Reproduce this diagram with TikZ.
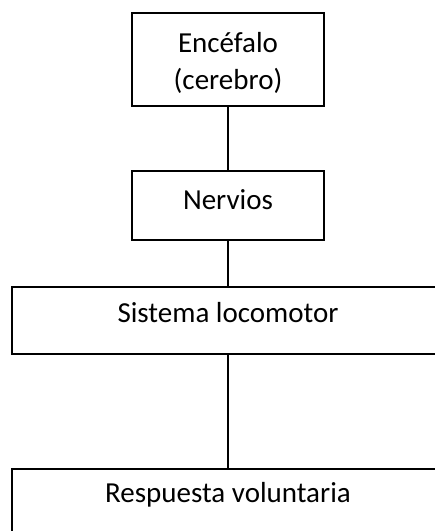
\documentclass[tikz,border=0pt]{standalone}
\usepackage{fontspec}
\setmainfont{Carlito}
\begin{document}
\begin{tikzpicture}[x=1pt,y=1pt,
  boxstyle/.style={draw=black,line width=1.6pt,rectangle,inner sep=0pt},
  txt/.style={inner sep=0pt,font=\fontsize{29}{37}\selectfont,align=center},
  link/.style={line width=1.6pt}]
\useasboundingbox (0,0) rectangle (435,531);
\clip (0,0) rectangle (435,531);
\node[boxstyle,minimum width=192pt,minimum height=93pt] (b1) at (228,471.5) {};
\node[boxstyle,minimum width=192pt,minimum height=69pt] (b2) at (228,325.5) {};
\node[boxstyle,minimum width=432pt,minimum height=67pt] (b3) at (228,210.5) {};
\node[boxstyle,minimum width=432pt,minimum height=67pt] (b4) at (228,28.5) {};
\node[txt,anchor=base] (t1a) at (228,478) {Encéfalo};
\node[txt,anchor=base] (t1b) at (228,441) {(cerebro)};
\node[txt,anchor=base] (t2) at (228,321) {Nervios};
\node[txt,anchor=base] (t3) at (228,208) {Sistema locomotor};
\node[txt,anchor=base] (t4) at (228,28) {Respuesta voluntaria};
\draw[link] (b1.south) -- (b2.north);
\draw[link] (b2.south) -- (b3.north);
\draw[link] (b3.south) -- (b4.north);
\end{tikzpicture}
\end{document}
